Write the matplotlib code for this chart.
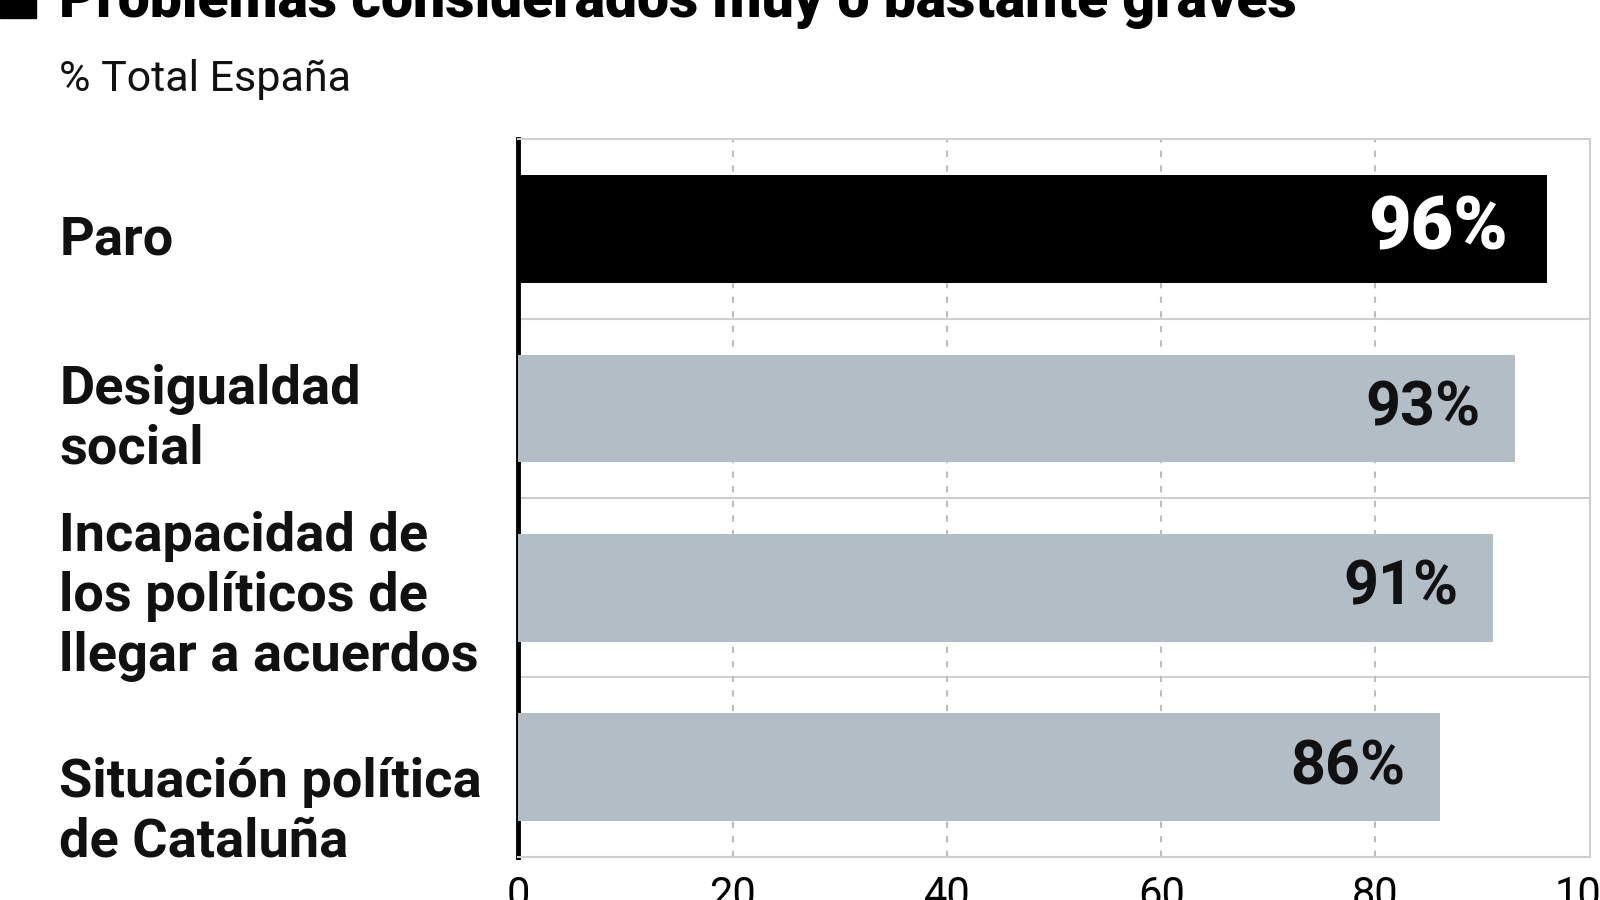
import matplotlib
matplotlib.use('Agg')
import matplotlib.pyplot as plt
from matplotlib.patches import Rectangle
from matplotlib.transforms import blended_transform_factory

plt.rcParams['font.family'] = ['Roboto', 'DejaVu Sans']

categorias = ['Paro', 'Desigualdad\nsocial', 'Incapacidad de\nlos políticos de\nllegar a acuerdos',
              'Situación política\nde Cataluña']
valores = [96, 93, 91, 86]
etiquetas = ['96%', '93%', '91%', '86%']
colores = ['#000000', '#b3bdc6', '#b3bdc6', '#b3bdc6']
ticks = [0, 20, 40, 60, 80, 100]

# desplazamiento vertical de cada etiqueta de categoría (en unidades de banda)
desplaz = [0.06, 0.06, 0.05, 0.25]

fig = plt.figure(figsize=(16, 9), dpi=100)
ax = fig.add_axes([0.324, 0.048, 0.6696, 0.797])

pos = list(range(len(categorias)))
ax.barh(pos, valores, height=0.6, color=colores, zorder=3)

ax.set_xlim(0, 100)
ax.set_ylim(len(categorias) - 0.5, -0.5)

# separadores horizontales y rejilla vertical
for y in [0.5, 1.5, 2.5]:
    ax.axhline(y, color='#cfcfcf', lw=1.5, zorder=1)
for x in ticks[1:-1]:
    ax.axvline(x, color='#bdbdbd', lw=1.5, ls=(0, (3, 4)), zorder=1)

for lado in ['top', 'right', 'bottom']:
    ax.spines[lado].set_color('#cfcfcf')
    ax.spines[lado].set_linewidth(1.5)
ax.spines['left'].set_color('#000000')
ax.spines['left'].set_linewidth(3.5)

ax.set_yticks([])
ax.set_xticks(ticks)
ax.set_xticklabels([str(t) for t in ticks], fontsize=30)
ax.tick_params(axis='x', length=0, pad=13)

# etiquetas de valor
for i, (v, e) in enumerate(zip(valores, etiquetas)):
    if i == 0:
        ax.annotate(e, xy=(v, i), xytext=(-28, 0), textcoords='offset points',
                    ha='right', va='center', color='white', fontsize=53, fontweight='black', zorder=4)
    else:
        ax.annotate(e, xy=(v, i), xytext=(-25, 0), textcoords='offset points',
                    ha='right', va='center', color='#111111', fontsize=44, fontweight='bold', zorder=4)

# etiquetas de categoría
trans = blended_transform_factory(fig.transFigure, ax.transData)
for i, c in enumerate(categorias):
    ax.text(0.037, i + desplaz[i], c, transform=trans, ha='left', va='center', fontsize=39,
            fontweight='semibold', linespacing=1.22, color='#111111')

# título y subtítulo
fig.patches.append(Rectangle((0, 1 - 18 / 900), 36 / 1600, 18 / 900, transform=fig.transFigure,
                             color='black', figure=fig))
fig.text(0.037, 1 - 17 / 900, 'Problemas considerados muy o bastante graves', ha='left', va='baseline',
         fontsize=41, fontweight='black', color='black')
fig.text(0.037, 1 - 80 / 900, '% Total España', ha='left', va='center', fontsize=31, color='#111111')

plt.savefig('out.png', dpi=100)
plt.close()
